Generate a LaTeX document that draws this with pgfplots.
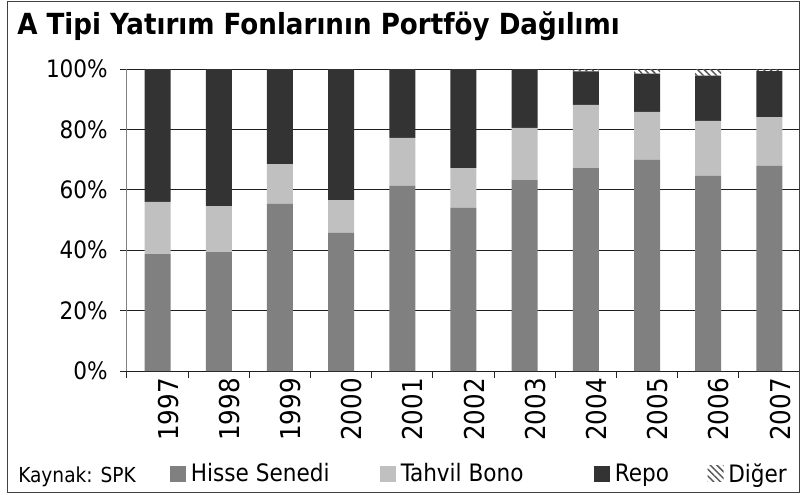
\documentclass[border=0pt]{standalone}
\usepackage{fontspec}
\setmainfont{DejaVu Sans Condensed}
\usepackage{pgfplots}
\pgfplotsset{compat=1.18}
\usetikzlibrary{patterns,patterns.meta}
\definecolor{hisse}{HTML}{808080}
\definecolor{tahvil}{HTML}{C0C0C0}
\definecolor{repo}{HTML}{333333}
\definecolor{frame}{HTML}{404040}
\begin{document}
\begin{tikzpicture}
\begin{axis}[
  scale only axis, width=504.75pt, height=226.5pt,
  ybar stacked, bar width=19.5pt,
  xmin=-0.5, xmax=10.5, ymin=0, ymax=100,
  axis x line*=bottom, axis y line*=left,
  axis line style={-},
  x axis line style={black!88, line width=0.75pt},
  y axis line style={black!50, line width=0.75pt},
  xtick={0,...,10},
  xticklabels={1997,1998,1999,2000,2001,2002,2003,2004,2005,2006,2007},
  major x tick style={draw=none},
  minor xtick={-0.5,0.5,...,10.5},
  tick align=outside,
  major tick length=5.25pt, minor tick length=5.25pt,
  tick style={black!85, line width=0.75pt},
  ytick={0,20,40,60,80,100},
  yticklabels={0\%,20\%,40\%,60\%,80\%,100\%},
  ymajorgrids, major grid style={black!88, line width=0.75pt},
  xticklabel style={rotate=90, anchor=east, inner sep=0pt, yshift=-8pt, font=\fontsize{20.5}{22}\selectfont},
  yticklabel style={inner sep=0pt, xshift=-9pt, font=\fontsize{18}{20}\selectfont},
  every axis plot post/.append style={legend image code/.code={\fill[##1] (0pt,-6pt) rectangle (12pt,6pt);}},
  legend style={at={(axis description cs:0,0)}, anchor=west, xshift=32.25pt, yshift=-77pt,
    draw=none, fill=none, inner sep=0pt, font=\fontsize{18}{20}\selectfont,
    /tikz/every odd column/.append style={column sep=1.5pt},
    /tikz/every even column/.append style={column sep=36pt}},
  legend columns=-1,
  legend cell align=left,
]
\addplot[fill=hisse, draw=none] coordinates {(0,38.7) (1,39.4) (2,55.3) (3,45.7) (4,61.3) (5,54.0) (6,63.2) (7,67.2) (8,69.9) (9,64.6) (10,67.9)};
\addplot[fill=tahvil, draw=none] coordinates {(0,17.3) (1,15.2) (2,13.2) (3,10.9) (4,15.9) (5,13.2) (6,17.3) (7,20.9) (8,15.9) (9,18.2) (10,16.2)};
\addplot[fill=repo, draw=none] coordinates {(0,44.0) (1,45.4) (2,31.5) (3,43.4) (4,22.8) (5,32.8) (6,19.5) (7,11.1) (8,12.7) (9,15.0) (10,15.2)};
\addplot[draw=none, pattern={Lines[angle=-45, distance=3.5pt, line width=1.1pt]}, pattern color=black!65] coordinates {(0,0) (1,0) (2,0) (3,0) (4,0) (5,0) (6,0) (7,0.8) (8,1.5) (9,2.2) (10,0.7)};
\legend{Hisse Senedi, Tahvil Bono\hspace*{15pt}, Repo\hspace*{-9pt}, Diğer}
\coordinate (O) at (rel axis cs:0,0);
\end{axis}
\draw[frame, line width=0.75pt] ([xshift=-89.25pt, yshift=-91.125pt]O) rectangle ([xshift=504pt, yshift=276.75pt]O);
\node[anchor=base west, inner sep=0pt, font=\bfseries\fontsize{21.8}{24}\selectfont] at ([xshift=-82.5pt, yshift=252pt]O) {A Tipi Yatırım Fonlarının Portföy Dağılımı};
\node[anchor=base west, inner sep=0pt, font=\fontsize{15.5}{18}\selectfont] at ([xshift=-81.75pt, yshift=-83.5pt]O) {Kaynak: SPK};
\pgfresetboundingbox
\path[use as bounding box] ([xshift=-95.25pt, yshift=-92.25pt]O) rectangle ([xshift=505.5pt, yshift=278.25pt]O);
\end{tikzpicture}
\end{document}
